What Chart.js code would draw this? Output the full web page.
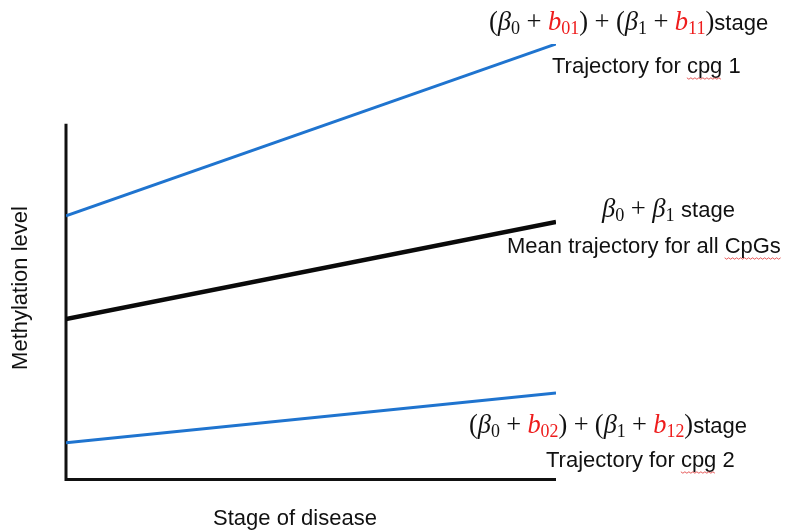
<!DOCTYPE html>
<html><head><meta charset="utf-8">
<script src="https://cdn.jsdelivr.net/npm/chart.js@4.4.1/dist/chart.umd.min.js"></script>
<style>html,body{margin:0;padding:0;background:#fff}#wrap{width:792px;height:531px}</style>
</head><body><div id="wrap"><canvas id="c" width="792" height="531"></canvas></div>
<script>
// ---- data ----
const stages = [0, 1];
const cpg1 = [60.4, 100];
const meanAll = [36.6, 59.0];
const cpg2 = [8.1, 19.6];
const axisTop = 81.6;
const xTitle = 'Stage of disease';
const yTitle = 'Methylation level';
const labelCpg1 = 'Trajectory for cpg 1';
const labelMean = 'Mean trajectory for all CpGs';
const labelCpg2 = 'Trajectory for cpg 2';

const BLUE = '#1f74cf';
const RED = '#ee1c1c';
const SANS = '"Liberation Sans", Arial, sans-serif';
const SERIF = '"Liberation Serif", "DejaVu Serif", serif';

function pts(ys){ return stages.map((s,i)=>({x:s,y:ys[i]})); }

// rich formula segments: [text, kind, color]; kind 'gap' = horizontal space (px at scale 1)
function formula(i0, i1){
  const seg = [];
  const sub = (t,c)=>seg.push([t,'sub',c]);
  const m = (t,c)=>seg.push([t,'m',c]);
  const it = (t,c)=>seg.push([t,'it',c]);
  const gap = (w)=>seg.push([w,'gap']);
  const plus = ()=>{gap(6); m('+'); gap(6);};
  m('('); it('\u03B2'); sub('0'); plus(); it('b',RED); sub(i0,RED); m(')'); plus(); m('(');
  it('\u03B2'); sub('1'); plus(); it('b',RED); sub(i1,RED); m(')');
  seg.push(['stage','sans']);
  return seg;
}
const formulaMean = [['\u03B2','it'],['0','sub'],[6,'gap'],['+','m'],[6,'gap'],['\u03B2','it'],['1','sub'],[6,'gap'],['stage','sans']];

function fontFor(kind, s){
  if(kind==='it') return 'italic ' + (25*s).toFixed(1) + 'px ' + SERIF;
  if(kind==='m') return (25*s).toFixed(1) + 'px ' + SERIF;
  if(kind==='sub') return (17*s).toFixed(1) + 'px ' + SERIF;
  return '22px ' + SANS;
}
function segW(ctx,g,s){
  if(g[1]==='gap') return g[0]*s;
  ctx.font=fontFor(g[1],s); return ctx.measureText(g[0]).width;
}
function drawRich(ctx, seg, x, y, targetW){
  let s = 1;
  for(let k=0;k<4;k++){
    let w=0, wS=0;
    seg.forEach(g=>{const ww=segW(ctx,g,s); w+=ww; if(g[1]==='sans') wS+=ww;});
    s = s*(targetW-wS)/(w-wS);
  }
  let cx=x;
  seg.forEach(g=>{
    if(g[1]!=='gap'){
      ctx.font=fontFor(g[1],s);
      ctx.fillStyle=g[2]||'#111';
      const dy = g[1]==='sub'? 4 : 0;
      ctx.fillText(g[0],cx,y+dy);
    }
    cx+=segW(ctx,g,s);
  });
}
function squiggle(ctx,x0,x1,y){
  ctx.save(); ctx.strokeStyle='#e03030'; ctx.lineWidth=0.8; ctx.beginPath();
  for(let x=x0,i=0;x<=x1;x+=2,i++){ const yy=y+(i%2?1.2:-0.2); if(i===0)ctx.moveTo(x,yy); else ctx.lineTo(x,yy);} ctx.stroke(); ctx.restore();
}
function textWithSquiggle(ctx, txt, word, x, y){
  ctx.font='22px '+SANS; ctx.fillStyle='#111'; ctx.fillText(txt,x,y);
  const idx=txt.indexOf(word);
  const a=x+ctx.measureText(txt.slice(0,idx)).width, b=a+ctx.measureText(word).width;
  squiggle(ctx,a,b,y+5);
}

const decor = {
  id:'decor',
  beforeDatasetsDraw(chart){
    const {ctx, scales:{x,y}} = chart;
    const x0=x.getPixelForValue(stages[0]), x1=x.getPixelForValue(stages[stages.length-1]);
    const y0=y.getPixelForValue(0), yt=y.getPixelForValue(axisTop);
    ctx.save(); ctx.strokeStyle='#111'; ctx.lineWidth=3; ctx.lineCap='butt';
    ctx.beginPath(); ctx.moveTo(x0,yt); ctx.lineTo(x0,y0+1.5); ctx.lineTo(x1,y0+1.5); ctx.stroke(); ctx.restore();
  },
  afterDraw(chart){
    const {ctx} = chart;
    ctx.save(); ctx.textBaseline='alphabetic'; ctx.textAlign='left';
    drawRich(ctx, formula('01','11'), 489, 30, 279);
    textWithSquiggle(ctx, labelCpg1, 'cpg', 552, 73);
    drawRich(ctx, formulaMean, 602, 217, 133);
    textWithSquiggle(ctx, labelMean, 'CpGs', 507, 253);
    drawRich(ctx, formula('02','12'), 469, 433, 278);
    textWithSquiggle(ctx, labelCpg2, 'cpg', 546, 467);
    ctx.font='22px '+SANS; ctx.fillStyle='#111'; ctx.textAlign='center';
    ctx.fillText(xTitle, 295, 525);
    ctx.translate(27, 288); ctx.rotate(-Math.PI/2); ctx.fillText(yTitle, 0, 0);
    ctx.restore();
  }
};

new Chart(document.getElementById('c'), {
  type:'line',
  data:{datasets:[
    {data:pts(cpg1), borderColor:BLUE, borderWidth:3, pointRadius:0},
    {data:pts(meanAll), borderColor:'#0a0a0a', borderWidth:4.5, pointRadius:0},
    {data:pts(cpg2), borderColor:BLUE, borderWidth:3, pointRadius:0}
  ]},
  options:{
    responsive:false, animation:false,
    layout:{padding:{left:66, right:236, top:44, bottom:53}},
    plugins:{legend:{display:false}, tooltip:{enabled:false}},
    scales:{
      x:{type:'linear', min:0, max:1, display:false},
      y:{min:0, max:100, display:false}
    }
  },
  plugins:[decor]
});
</script></body></html>
